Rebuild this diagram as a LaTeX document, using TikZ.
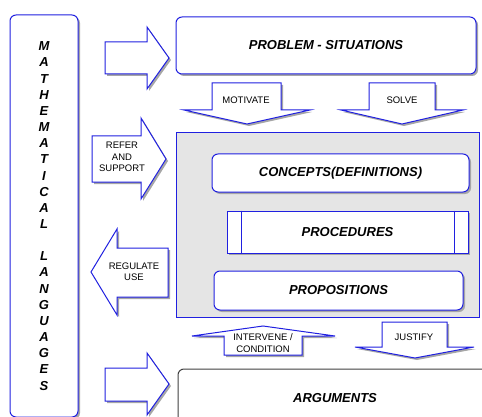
\documentclass[tikz,border=0pt]{standalone}
\usepackage{fontspec}
\setmainfont{Liberation Sans}
\usepackage{tikz}
\usetikzlibrary{shadows}
\definecolor{frameblue}{RGB}{32,32,224}
\definecolor{panelgray}{RGB}{229,229,229}

\begin{document}
\begin{tikzpicture}[
    x=1pt, y=-1pt,
    shade/.style={drop shadow={shadow xshift=2pt, shadow yshift=-2pt, fill=gray!70, opacity=1}},
    box/.style={draw=frameblue, line width=1pt, fill=white, rounded corners=6pt, shade,
                inner sep=0pt, font=\fontsize{13}{15}\selectfont\bfseries\itshape},
    procbox/.style={box, rounded corners=0pt},
    panel/.style={draw=frameblue, line width=1pt, fill=panelgray, inner sep=0pt},
    barrow/.style={draw=frameblue, line width=1pt, fill=white, shade, line join=miter},
    lbl/.style={align=center, inner sep=0pt, font=\fontsize{9.5}{11.3}\selectfont},
  ]
    \useasboundingbox (0,0) rectangle (482,417);
    \clip (0,0) rectangle (482,417);
    % left column
    \node[box, minimum width=68pt, minimum height=402pt, align=center,
          font=\fontsize{13}{16.16}\selectfont\bfseries\itshape] (lang) at (44,216)
      {M\\A\\T\\H\\E\\M\\A\\T\\I\\C\\A\\L\\[16.16pt]L\\A\\N\\G\\U\\A\\G\\E\\S};
    % main boxes
    \node[box, minimum width=300pt, minimum height=57pt] (prob) at (326,45.5) {PROBLEM - SITUATIONS};
    \node[panel, minimum width=303pt, minimum height=184pt] (core) at (327.5,225) {};
    \node[box, minimum width=257pt, minimum height=38pt] (conc) at (340.5,173) {CONCEPTS(DEFINITIONS)};
    \node[procbox, minimum width=241pt, minimum height=42pt] (proc) at (347.5,232) {PROCEDURES};
    \draw[frameblue, line width=1pt] ([xshift=15pt]proc.north west) -- ([xshift=15pt]proc.south west);
    \draw[frameblue, line width=1pt] ([xshift=-14pt]proc.north east) -- ([xshift=-14pt]proc.south east);
    \node[box, minimum width=249pt, minimum height=39pt] (prop) at (338.5,290.5) {PROPOSITIONS};
    \node[box, draw=black!75, minimum width=314pt, minimum height=58pt] (arg) at (335,398) {ARGUMENTS};
    % block arrows
    \draw[barrow] (105,42) -- (147,42) -- (147,27) -- (169,58) -- (147,89) -- (147,74) -- (105,74) -- cycle;
    \draw[barrow] (92,136) -- (141,136) -- (141,118) -- (166,159) -- (141,199) -- (141,182) -- (92,182) -- cycle;
    \node[lbl] (refer) at (122,157) {REFER\\AND\\SUPPORT};
    \draw[barrow] (168,248) -- (117,248) -- (117,229) -- (91,272) -- (117,315) -- (117,297) -- (168,297) -- cycle;
    \node[lbl] (regul) at (134,271.5) {REGULATE\\USE};
    \draw[barrow] (105,368) -- (147,368) -- (147,353) -- (169,384) -- (147,415) -- (147,401) -- (105,401) -- cycle;
    \draw[barrow] (212,83) -- (281,83) -- (281,110) -- (310,110) -- (247,124) -- (184,110) -- (212,110) -- cycle;
    \node[lbl] (motiv) at (246,100) {MOTIVATE};
    \draw[barrow] (369,83) -- (435,83) -- (435,110) -- (463,110) -- (402,124) -- (341,110) -- (369,110) -- cycle;
    \node[lbl] (solve) at (402,100) {SOLVE};
    \draw[barrow] (224,355) -- (224,336) -- (192,336) -- (263,326) -- (335,336) -- (302,336) -- (302,355) -- cycle;
    \node[lbl] (interv) at (263,343) {INTERVENE /\\CONDITION};
    \draw[barrow] (382,322) -- (447,322) -- (447,347) -- (474,347) -- (415,358) -- (355,347) -- (382,347) -- cycle;
    \node[lbl] (justify) at (414,337) {JUSTIFY};
\end{tikzpicture}
\end{document}
